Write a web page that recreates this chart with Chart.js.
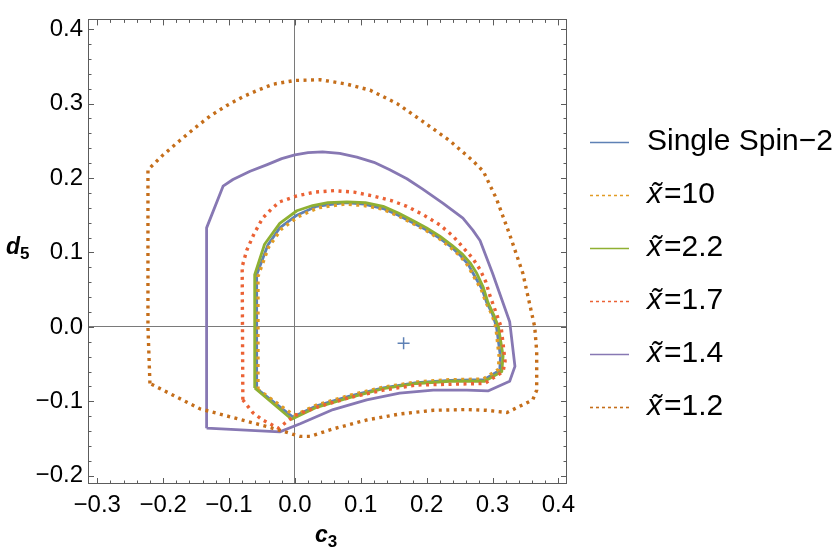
<!DOCTYPE html>
<html>
<head>
<meta charset="utf-8">
<script src="https://cdn.jsdelivr.net/npm/chart.js@4.4.1/dist/chart.umd.min.js"></script>
<style>
  html, body { margin: 0; padding: 0; background: #fff; }
  #wrap { width: 838px; height: 552px; }
</style>
</head>
<body>
<div id="wrap"><canvas id="grafica"></canvas></div>
<script>
// contours in the (c3, d5) plane
const spinX = [-0.058, -0.058, -0.041, -0.023, 0.003, 0.033, 0.076, 0.105, 0.134, 0.157, 0.179, 0.200, 0.220, 0.238, 0.250, 0.263, 0.273, 0.284, 0.291, 0.300, 0.306, 0.312, 0.311, 0.287, 0.235, 0.185, 0.134, 0.083, 0.033, -0.003, -0.058];
const spinY = [-0.083, 0.070, 0.110, 0.133, 0.150, 0.162, 0.167, 0.165, 0.159, 0.150, 0.140, 0.130, 0.119, 0.107, 0.097, 0.084, 0.068, 0.051, 0.033, 0.017, 0.000, -0.040, -0.058, -0.071, -0.072, -0.075, -0.082, -0.093, -0.106, -0.121, -0.083];

const x10X = [-0.056, -0.056, -0.040, -0.021, 0.005, 0.035, 0.076, 0.105, 0.134, 0.157, 0.179, 0.200, 0.220, 0.237, 0.250, 0.262, 0.272, 0.283, 0.290, 0.299, 0.305, 0.310, 0.309, 0.286, 0.235, 0.185, 0.134, 0.083, 0.033, -0.001, -0.056];
const x10Y = [-0.084, 0.068, 0.107, 0.131, 0.148, 0.160, 0.165, 0.163, 0.158, 0.149, 0.139, 0.129, 0.118, 0.106, 0.096, 0.083, 0.067, 0.050, 0.033, 0.017, 0.000, -0.040, -0.057, -0.070, -0.071, -0.074, -0.081, -0.092, -0.105, -0.119, -0.084];

const x22X = [-0.061, -0.061, -0.046, -0.023, 0.003, 0.027, 0.050, 0.079, 0.107, 0.134, 0.157, 0.179, 0.200, 0.220, 0.238, 0.255, 0.266, 0.276, 0.286, 0.293, 0.302, 0.309, 0.316, 0.314, 0.288, 0.235, 0.185, 0.134, 0.083, 0.033, -0.005, -0.061];
const x22Y = [-0.082, 0.070, 0.111, 0.139, 0.156, 0.163, 0.167, 0.168, 0.167, 0.162, 0.153, 0.143, 0.133, 0.122, 0.110, 0.097, 0.086, 0.072, 0.053, 0.033, 0.016, 0.000, -0.039, -0.060, -0.073, -0.073, -0.076, -0.083, -0.095, -0.108, -0.124, -0.082];

const x17X = [-0.079, -0.080, -0.073, -0.062, -0.049, -0.036, -0.023, 0.003, 0.030, 0.060, 0.090, 0.118, 0.145, 0.170, 0.196, 0.220, 0.240, 0.255, 0.270, 0.281, 0.290, 0.296, 0.305, 0.313, 0.319, 0.316, 0.288, 0.235, 0.185, 0.134, 0.083, 0.033, 0.000, -0.025, -0.049, -0.064, -0.079];
const x17Y = [-0.098, 0.081, 0.103, 0.125, 0.146, 0.158, 0.168, 0.176, 0.181, 0.183, 0.181, 0.176, 0.170, 0.162, 0.150, 0.137, 0.122, 0.107, 0.092, 0.077, 0.060, 0.042, 0.020, 0.000, -0.046, -0.060, -0.076, -0.077, -0.078, -0.085, -0.095, -0.108, -0.119, -0.136, -0.125, -0.115, -0.098];

const x14X = [-0.134, -0.134, -0.109, -0.094, -0.068, -0.042, -0.020, 0.000, 0.020, 0.042, 0.068, 0.094, 0.120, 0.144, 0.170, 0.194, 0.225, 0.255, 0.270, 0.281, 0.300, 0.326, 0.334, 0.326, 0.293, 0.261, 0.210, 0.159, 0.109, 0.058, 0.008, -0.023, -0.134];
const x14Y = [-0.136, 0.133, 0.189, 0.198, 0.209, 0.218, 0.226, 0.231, 0.234, 0.235, 0.233, 0.228, 0.221, 0.211, 0.199, 0.185, 0.166, 0.146, 0.130, 0.116, 0.072, 0.007, -0.053, -0.073, -0.086, -0.085, -0.085, -0.089, -0.098, -0.111, -0.130, -0.141, -0.136];

const x12X = [-0.220, -0.223, -0.223, -0.200, -0.175, -0.152, -0.129, -0.104, -0.079, -0.056, -0.033, 0.000, 0.038, 0.079, 0.114, 0.155, 0.194, 0.235, 0.269, 0.286, 0.306, 0.326, 0.346, 0.364, 0.367, 0.367, 0.361, 0.322, 0.291, 0.261, 0.210, 0.159, 0.109, 0.058, 0.023, 0.008, -0.042, -0.144, -0.220];
const x12Y = [-0.076, 0.000, 0.211, 0.231, 0.250, 0.267, 0.283, 0.297, 0.309, 0.318, 0.326, 0.331, 0.332, 0.326, 0.318, 0.300, 0.276, 0.250, 0.224, 0.209, 0.172, 0.124, 0.072, 0.000, -0.033, -0.085, -0.098, -0.115, -0.112, -0.111, -0.112, -0.117, -0.125, -0.137, -0.147, -0.147, -0.134, -0.110, -0.076];

// the single "+" marker
const markX = [0.165];
const markY = [-0.022];

const legendLabels = ["Single Spin\u22122", "x\u0303=10", "x\u0303=2.2", "x\u0303=1.7", "x\u0303=1.4", "x\u0303=1.2"];
const xTicks = [-0.3, -0.2, -0.1, 0, 0.1, 0.2, 0.3, 0.4];
const yTicks = [-0.2, -0.1, 0, 0.1, 0.2, 0.3, 0.4];

const colores = ["#5E81B5", "#E19C24", "#8FB032", "#EB6235", "#8778B3", "#C56E1A"];
const dotted = [false, true, false, true, false, true];

const FONT = "'Liberation Sans', Arial, sans-serif";

function puntos(xs, ys) {
  return xs.map((v, i) => ({ x: v, y: ys[i] }));
}

const curvas = [
  [spinX, spinY], [x10X, x10Y], [x22X, x22Y],
  [x17X, x17Y], [x14X, x14Y], [x12X, x12Y]
];

const datasets = curvas.map((c, i) => ({
  label: legendLabels[i],
  data: puntos(c[0], c[1]),
  showLine: true,
  borderColor: colores[i],
  borderWidth: dotted[i] ? 3.4 : 2.8,
  borderDash: dotted[i] ? [3, 4.5] : [],
  borderJoinStyle: "round",
  pointRadius: 0,
  tension: 0,
  order: 10 - i
}));

datasets.push({
  label: "mark",
  data: puntos(markX, markY),
  pointStyle: "cross",
  pointRadius: 6,
  pointBorderWidth: 1.5,
  borderColor: colores[0],
  backgroundColor: colores[0],
  showLine: false,
  order: 0
});

function fmt(v) {
  return v.toFixed(1).replace("-", "\u2212");
}

// frame, inner ticks, axis titles and legend
const marco = {
  id: "marco",
  afterDraw(chart) {
    const { ctx, chartArea: a, scales: { x, y } } = chart;
    ctx.save();
    ctx.strokeStyle = "#5c5c5c";
    ctx.lineWidth = 1;
    ctx.strokeRect(Math.round(a.left) + 0.5, Math.round(a.top) + 0.5,
      Math.round(a.width) - 1, Math.round(a.height) - 1);

    ctx.beginPath();
    for (let k = -16; k <= 21; k++) {
      const v = k * 0.02;
      const len = k % 5 === 0 ? 6 : 3.5;
      if (v >= x.min && v <= x.max) {
        const px = Math.round(x.getPixelForValue(v)) + 0.5;
        ctx.moveTo(px, a.bottom); ctx.lineTo(px, a.bottom - len);
        ctx.moveTo(px, a.top); ctx.lineTo(px, a.top + len);
      }
      if (v >= y.min && v <= y.max) {
        const py = Math.round(y.getPixelForValue(v)) + 0.5;
        ctx.moveTo(a.left, py); ctx.lineTo(a.left + len, py);
        ctx.moveTo(a.right, py); ctx.lineTo(a.right - len, py);
      }
    }
    ctx.stroke();

    // axis titles
    ctx.fillStyle = "#000";
    ctx.textBaseline = "alphabetic";
    ctx.textAlign = "left";
    ctx.font = "italic bold 23px " + FONT;
    ctx.fillText("d", 6, 254);
    const dw = ctx.measureText("d").width;
    ctx.font = "bold 17px " + FONT;
    ctx.fillText("5", 6 + dw, 259);

    ctx.font = "italic bold 23px " + FONT;
    ctx.fillText("c", 315, 542);
    const cw = ctx.measureText("c").width;
    ctx.font = "bold 17px " + FONT;
    ctx.fillText("3", 315 + cw, 547);

    // legend
    const ly0 = 142, step = 53;
    legendLabels.forEach((t, i) => {
      const ly = ly0 + i * step;
      ctx.beginPath();
      ctx.strokeStyle = colores[i];
      ctx.lineWidth = 1.6;
      ctx.setLineDash(dotted[i] ? [3, 3] : []);
      ctx.moveTo(590, ly + 0.5);
      ctx.lineTo(629, ly + 0.5);
      ctx.stroke();
      ctx.setLineDash([]);
      ctx.textBaseline = "middle";
      if (t.startsWith("x\u0303")) {
        ctx.font = "italic 30px " + FONT;
        ctx.fillText("x\u0303", 647, ly);
        const w = ctx.measureText("x").width;
        ctx.font = "30px " + FONT;
        ctx.fillText(t.slice(2), 647 + w + 2, ly);
      } else {
        ctx.font = "30px " + FONT;
        ctx.fillText(t, 647, ly);
      }
    });
    ctx.restore();
  }
};

new Chart(document.getElementById("grafica"), {
  type: "scatter",
  data: { datasets },
  options: {
    responsive: true,
    maintainAspectRatio: false,
    animation: false,
    layout: { padding: { left: 0, right: 271, top: 5, bottom: 0 } },
    plugins: {
      legend: { display: false },
      tooltip: { enabled: false }
    },
    scales: {
      x: {
        type: "linear",
        min: -0.314,
        max: 0.413,
        afterBuildTicks: s => { s.ticks = xTicks.map(v => ({ value: v })); },
        afterFit: s => { s.height = 68; },
        border: { display: false },
        grid: {
          drawTicks: false,
          color: c => (c.tick && c.tick.value === 0) ? "#7a7a7a" : "rgba(0,0,0,0)",
          lineWidth: 1
        },
        ticks: {
          padding: 7,
          color: "#000",
          maxRotation: 0,
          autoSkip: false,
          font: { family: FONT, size: 24 },
          callback: v => fmt(v)
        }
      },
      y: {
        type: "linear",
        min: -0.211,
        max: 0.413,
        afterBuildTicks: s => { s.ticks = yTicks.map(v => ({ value: v })); },
        afterFit: s => { s.width = 88; },
        border: { display: false },
        grid: {
          drawTicks: false,
          color: c => (c.tick && c.tick.value === 0) ? "#7a7a7a" : "rgba(0,0,0,0)",
          lineWidth: 1
        },
        ticks: {
          padding: 5,
          color: "#000",
          autoSkip: false,
          font: { family: FONT, size: 24 },
          callback: v => fmt(v)
        }
      }
    }
  },
  plugins: [marco]
});
</script>
</body>
</html>
